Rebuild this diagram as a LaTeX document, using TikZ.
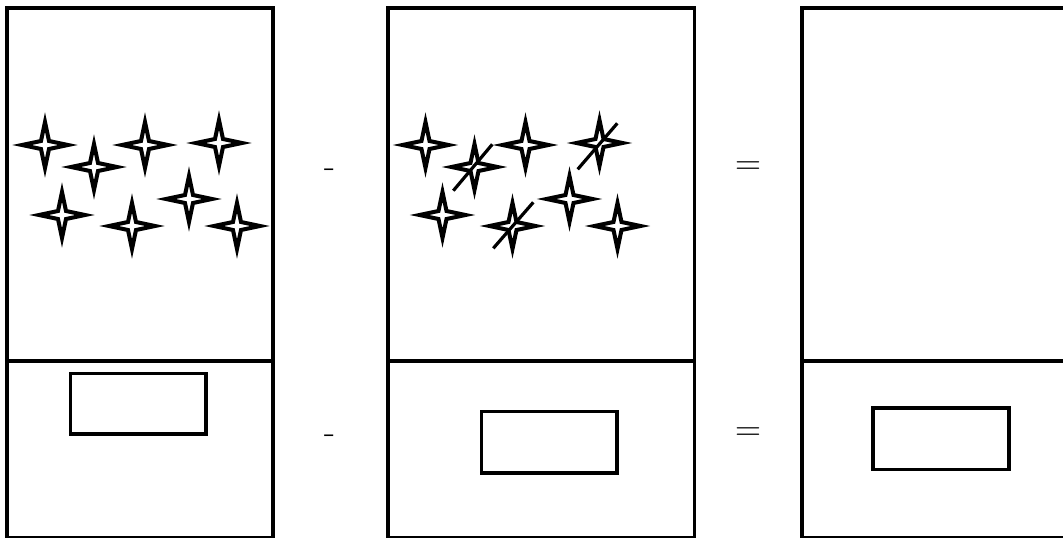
\documentclass[tikz,border=0pt]{standalone}
\begin{document}
\begin{tikzpicture}[x=1pt,y=-1pt,
  panel/.style={line width=3.6pt},
  item/.style={line width=3.2pt},
  sparkleline/.style={line width=4pt, line join=miter, miter limit=10, fill=white},
  slash/.style={line width=3.2pt},
  opsign/.style={font=\fontsize{36}{40}\selectfont, inner sep=0pt, anchor=base},
  sparkle/.pic={
    \draw[sparkleline] (23,0) -- (4,4) -- (0,23) -- (-4,4) -- (-23,0)
      -- (-4,-4) -- (0,-23) -- (4,-4) -- cycle;
  }]
\useasboundingbox (0,0) rectangle (1063,538);
\clip (0,0) rectangle (1063,538);
% panels
\draw[panel] (7,8) rectangle (273,537.5);
\draw[panel] (7,361) -- (273,361);
\draw[panel] (388,8) rectangle (694.5,537.5);
\draw[panel] (388,361) -- (694.5,361);
\draw[panel] (802,8) rectangle (1110,537.5);
\draw[panel] (802,361) -- (1110,361);
% inner rectangles
\draw[item] (70.5,373.5) rectangle (206,434);
\draw[item] (481.5,411.5) rectangle (617,473);
\draw[item] (873,408) rectangle (1009,469.5);
% stars panel 1
\pic (a1) at (45,145) {sparkle};
\pic (a2) at (94,167) {sparkle};
\pic (a3) at (145,145) {sparkle};
\pic (a4) at (219,143) {sparkle};
\pic (a5) at (62,215) {sparkle};
\pic (a6) at (132,226) {sparkle};
\pic (a7) at (189,199) {sparkle};
\pic (a8) at (237,226) {sparkle};
% stars panel 2
\pic (b1) at (425.5,145) {sparkle};
\pic (b2) at (474.5,167) {sparkle};
\pic (b3) at (525.5,145) {sparkle};
\pic (b4) at (599.5,143) {sparkle};
\pic (b5) at (442.5,215) {sparkle};
\pic (b6) at (512.5,226) {sparkle};
\pic (b7) at (569.5,199) {sparkle};
\pic (b8) at (617.5,226) {sparkle};
% slashes
\coordinate (s1a) at (453.3,190.7); \coordinate (s1b) at (492.3,144.3);
\coordinate (s2a) at (577.7,169.3); \coordinate (s2b) at (617.3,123.3);
\coordinate (s3a) at (493.3,248.3); \coordinate (s3b) at (533.3,202.3);
\draw[slash] (s1a) -- (s1b);
\draw[slash] (s2a) -- (s2b);
\draw[slash] (s3a) -- (s3b);
% operators
\node[opsign] (m1) at (330,177.5) {-};
\node[opsign] (m2) at (330,443.5) {-};
\node[opsign] (e1) at (748,174.1) {=};
\node[opsign] (e2) at (748,440.1) {=};
\end{tikzpicture}
\end{document}
